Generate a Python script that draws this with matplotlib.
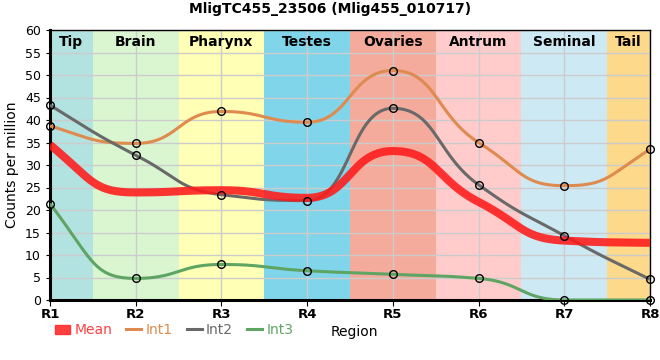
import numpy as np
import matplotlib
matplotlib.use("Agg")
import matplotlib.pyplot as plt
from matplotlib.patches import Patch
from matplotlib.lines import Line2D

regions = ['R1', 'R2', 'R3', 'R4', 'R5', 'R6', 'R7', 'R8']
tissues = ['Tip', 'Brain', 'Pharynx', 'Testes', 'Ovaries', 'Antrum', 'Seminal', 'Tail']
tissue_colors = ['#b3e3e0', '#d9f6d0', '#ffffb5', '#80d5eb', '#f4ab9c', '#ffcbcb', '#cde9f4', '#fdd98b']

mean = [34.5, 23.9, 24.4, 22.7, 33.1, 21.8, 13.2, 12.7]
int1 = [38.7, 34.8, 41.9, 39.5, 51.0, 35.0, 25.4, 33.5]
int2 = [43.3, 32.2, 23.4, 22.1, 42.6, 25.6, 14.3, 4.6]
int3 = [21.4, 4.8, 7.9, 6.5, 5.7, 4.8, 0.0, 0.0]


def smooth(x, y, k=0.5, n=60):
	# bezier through the points, flat at peaks/troughs, like the original "function" curves
	x = np.asarray(x, float)
	y = np.asarray(y, float)
	h = np.diff(x)
	d = np.diff(y) / h
	npts = len(x)
	m = np.zeros(npts)
	for i in range(1, npts - 1):
		if d[i - 1] * d[i] > 0:
			m[i] = 2 * d[i - 1] * d[i] / (d[i - 1] + d[i])
	m[0] = 1.5 * d[0] - 0.5 * m[1]
	m[-1] = 1.5 * d[-1] - 0.5 * m[-2]
	if m[0] * d[0] < 0:
		m[0] = 0
	if m[-1] * d[-1] < 0:
		m[-1] = 0
	lim = 1.0 / k
	for i in range(npts):
		for j in (i - 1, i):
			if 0 <= j < npts - 1 and d[j] != 0 and abs(m[i]) > lim * abs(d[j]):
				m[i] = np.sign(m[i]) * lim * abs(d[j])
	xs, ys = [], []
	t = np.linspace(0, 1, n)
	for i in range(npts - 1):
		p0 = (x[i], y[i])
		p1 = (x[i] + k * h[i], y[i] + m[i] * k * h[i])
		p2 = (x[i + 1] - k * h[i], y[i + 1] - m[i + 1] * k * h[i])
		p3 = (x[i + 1], y[i + 1])
		b = [(1 - t)**3, 3 * (1 - t)**2 * t, 3 * (1 - t) * t**2, t**3]
		xs.append(b[0] * p0[0] + b[1] * p1[0] + b[2] * p2[0] + b[3] * p3[0])
		ys.append(b[0] * p0[1] + b[1] * p1[1] + b[2] * p2[1] + b[3] * p3[1])
	return np.concatenate(xs), np.concatenate(ys)


fig = plt.figure(figsize=(6.6, 3.6), dpi=100)
ax = fig.add_axes([50 / 660, 60 / 360, 600 / 660, 270 / 360])

x = np.arange(len(regions))

for i, (name, col) in enumerate(zip(tissues, tissue_colors)):
	ax.axvspan(max(i - 0.5, 0), min(i + 0.5, len(regions) - 1), color=col, zorder=0, lw=0)
	ax.text(i if 0 < i < len(regions) - 1 else (i + 0.25 if i == 0 else i - 0.25), 57.4, name,
		ha='center', va='center', fontsize=10, fontweight='bold', zorder=5)

ax.set_yticks(range(0, 61, 5))
ax.set_xticks(x)
ax.set_xticklabels(regions, fontweight='bold', fontsize=9.5)
ax.grid(True, color='#cccccc', lw=1, zorder=1)
ax.set_axisbelow(True)

series = [(int1, '#df8a4e'), (int2, '#696969'), (int3, '#5ea563')]
for vals, col in series:
	sx, sy = smooth(x, vals)
	ax.plot(sx, sy, color=col, lw=2.2, zorder=3, solid_capstyle='butt')
sx, sy = smooth(x, mean)
ax.plot(sx, sy, color='#ff1a1a', lw=5.8, alpha=0.88, zorder=4, solid_capstyle='butt')
for vals, col in series:
	ax.plot(x, vals, 'o', ms=5.5, mfc='none', mec='black', mew=1, zorder=6, clip_on=False)

ax.set_xlim(0, len(regions) - 1)
ax.set_ylim(0, 60)
ax.tick_params(axis='y', labelsize=9, length=3)
ax.tick_params(axis='x', length=4, pad=2)
for s in ['left', 'bottom']:
	ax.spines[s].set_linewidth(2.2)
for s in ['top', 'right']:
	ax.spines[s].set_linewidth(1)
ax.set_ylabel('Counts per million', fontsize=10, labelpad=4)

fig.text(0.5, 0.975, 'MligTC455_23506 (Mlig455_010717)', ha='center', va='center',
	fontsize=10, fontweight='bold')
fig.text(331 / 660, 1 - 332 / 360, 'Region', ha='left', va='center', fontsize=10)

handles = [Patch(color='#ff2b2b', alpha=0.9),
	Line2D([], [], color='#df8a4e', lw=2.2),
	Line2D([], [], color='#696969', lw=2.2),
	Line2D([], [], color='#5ea563', lw=2.2)]
leg = fig.legend(handles, ['Mean', 'Int1', 'Int2', 'Int3'], loc='center left',
	bbox_to_anchor=(55 / 660, 1 - 330 / 360), ncol=4, frameon=False, fontsize=10,
	handlelength=1.1, handletextpad=0.3, columnspacing=1.0, handleheight=0.6,
	borderpad=0, borderaxespad=0)
for t, c in zip(leg.get_texts(), ['#ff4040', '#df8a4e', '#696969', '#5ea563']):
	t.set_color(c)

fig.savefig('out.png', dpi=100)
